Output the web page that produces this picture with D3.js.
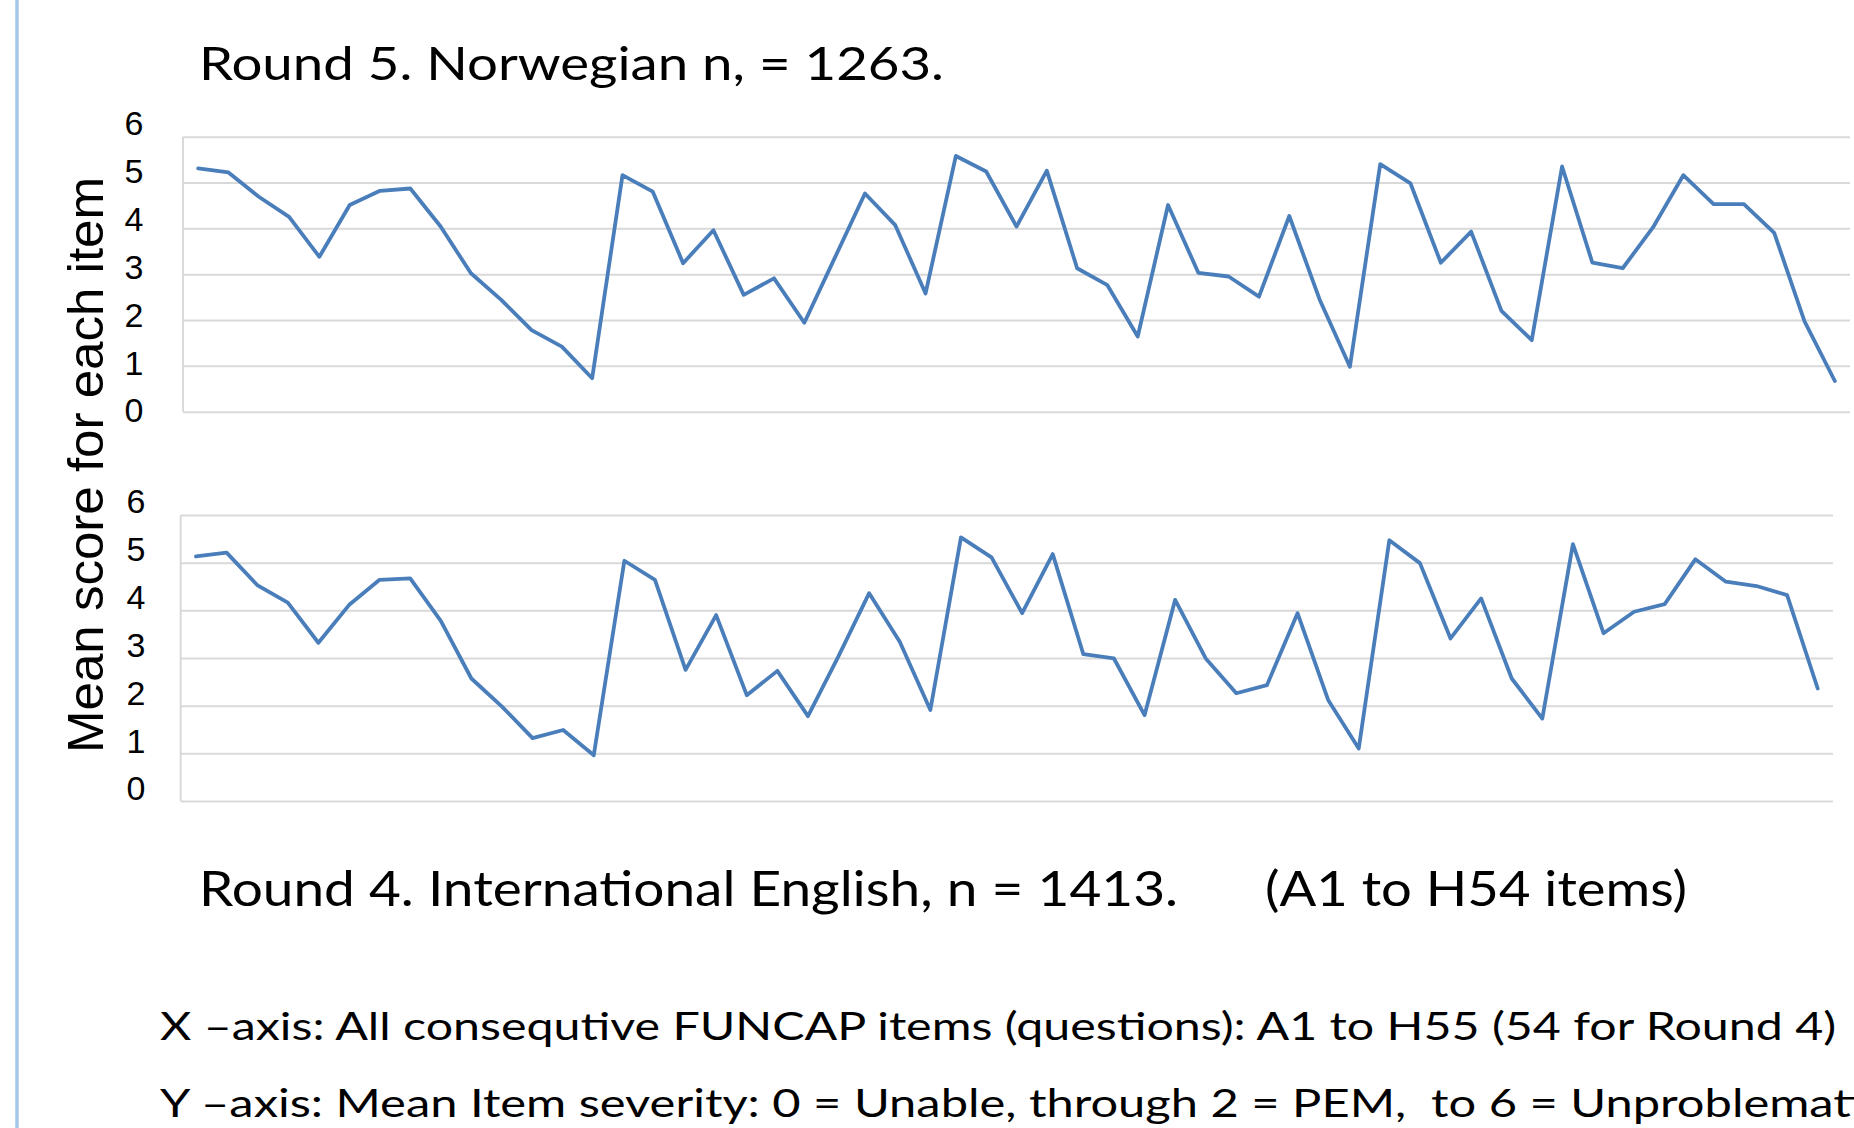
<!DOCTYPE html>
<html>
<head>
<meta charset="utf-8">
<script src="https://cdn.jsdelivr.net/npm/d3@7"></script>
<style>
  body { margin: 0; background: #fff; }
  svg { display: block; }
</style>
</head>
<body>
<div id="chart"></div>
<script>
// mean score per FUNCAP item
const norwegianItems = d3.range(1, 56);
const norwegianMeans = [5.31, 5.22, 4.69, 4.25, 3.38, 4.51, 4.82, 4.87, 4.04, 3.02,
    2.44, 1.78, 1.42, 0.73, 5.16, 4.80, 3.24, 3.96, 2.55, 2.91,
    1.94, 3.35, 4.76, 4.07, 2.58, 5.58, 5.24, 4.04, 5.26, 3.13,
    2.76, 1.64, 4.51, 3.03, 2.95, 2.51, 4.27, 2.45, 0.98, 5.40,
    4.98, 3.25, 3.93, 2.20, 1.56, 5.35, 3.25, 3.13, 4.02, 5.16,
    4.53, 4.53, 3.90, 1.97, 0.67];
const englishItems = d3.range(1, 55);
const englishMeans = [5.13, 5.21, 4.53, 4.16, 3.32, 4.11, 4.64, 4.67, 3.78, 2.57,
    1.98, 1.32, 1.49, 0.96, 5.04, 4.64, 2.75, 3.90, 2.22, 2.73,
    1.78, 3.04, 4.36, 3.34, 1.91, 5.53, 5.11, 3.94, 5.18, 3.08,
    2.99, 1.80, 4.22, 2.99, 2.26, 2.43, 3.94, 2.12, 1.10, 5.47,
    4.99, 3.41, 4.25, 2.57, 1.73, 5.39, 3.52, 3.97, 4.13, 5.07,
    4.60, 4.51, 4.32, 2.36];
const yTicks = [0, 1, 2, 3, 4, 5, 6];

const topTitle = 'Round 5. Norwegian n, = 1263.';
const bottomTitle = 'Round 4. International English, n = 1413.';
const bottomNote = '(A1 to H54 items)';
const yTitle = 'Mean score for each item';
const xNote = 'X \u2013axis: All consequtive FUNCAP items (questions): A1 to H55 (54 for Round 4)';
const yNote = 'Y \u2013axis: Mean Item severity: 0 = Unable, through 2 = PEM,\u00a0 to 6 = Unproblematic';

const W = 1854, H = 1128;
const titleFont = 'Lato, "Open Sans", sans-serif';
const axisFont = '"Liberation Sans", Arial, sans-serif';

const svg = d3.select('#chart').append('svg').attr('width', W).attr('height', H);
svg.append('rect').attr('width', W).attr('height', H).attr('fill', '#fff');

// thin blue rule down the left side
svg.append('line').attr('x1', 17).attr('x2', 17).attr('y1', 0).attr('y2', H)
    .attr('stroke', '#a4c8e8').attr('stroke-width', 3.5);

function panel(items, values, p) {
    const x = d3.scalePoint().domain(items).range([p.left, p.right]).padding(0.5);
    const y = d3.scaleLinear().domain([0, 6]).range([p.bottom, p.top]);

    // gridlines
    svg.append('g').attr('transform', `translate(${p.left}, 0)`)
        .call(d3.axisLeft(y).tickValues(yTicks).tickSize(-(p.right - p.left)).tickFormat(''))
        .call(g => g.select('.domain').remove())
        .selectAll('line').attr('stroke', '#d9d9d9').attr('stroke-width', 2);

    svg.append('line').attr('x1', p.left).attr('x2', p.left).attr('y1', y(6)).attr('y2', y(0))
        .attr('stroke', '#d9d9d9').attr('stroke-width', 2);

    // tick labels sit a little off the gridlines in the original
    const ly = d3.scaleLinear().domain([0, 6]).range([p.label0, p.label6]);
    svg.append('g').attr('transform', `translate(${p.labelX}, 0)`)
        .attr('font-size', 34).attr('font-family', axisFont)
        .call(d3.axisLeft(ly).tickValues(yTicks).tickSize(0).tickPadding(0).tickFormat(d3.format('d')))
        .call(g => g.select('.domain').remove())
        .selectAll('text').attr('x', 0).attr('text-anchor', 'middle')
        .style('font-family', axisFont).style('font-size', '34px').attr('fill', '#000');

    const line = d3.line().x((d, i) => x(items[i])).y(d => y(d));
    svg.append('path').datum(values).attr('d', line)
        .attr('fill', 'none').attr('stroke', '#4a7ebb').attr('stroke-width', 3.8)
        .attr('stroke-linejoin', 'round').attr('stroke-linecap', 'round');
}

panel(norwegianItems, norwegianMeans, {left: 183, right: 1850, top: 136.7, bottom: 411.7, labelX: 134, label0: 411, label6: 124});
panel(englishItems, englishMeans, {left: 180.7, right: 1833, top: 515, bottom: 801, labelX: 136, label0: 789, label6: 502});

// titles
svg.append('text').attr('x', 199).attr('y', 80).text(topTitle)
    .style('font-family', titleFont).style('font-size', '46px').attr('fill', '#000')
    .attr('textLength', 745).attr('lengthAdjust', 'spacingAndGlyphs');
svg.append('text').attr('x', 199).attr('y', 906).text(bottomTitle)
    .style('font-family', titleFont).style('font-size', '48px').attr('fill', '#000')
    .attr('textLength', 979).attr('lengthAdjust', 'spacingAndGlyphs');
svg.append('text').attr('x', 1265).attr('y', 906).text(bottomNote)
    .style('font-family', titleFont).style('font-size', '48px').attr('fill', '#000')
    .attr('textLength', 422).attr('lengthAdjust', 'spacingAndGlyphs');

svg.append('text').attr('transform', 'translate(103, 465) rotate(-90)')
    .attr('text-anchor', 'middle').text(yTitle)
    .style('font-family', axisFont).style('font-size', '50px').attr('fill', '#000')
    .attr('textLength', 576).attr('lengthAdjust', 'spacingAndGlyphs');

// notes under the chart, squeezed the same way; the second runs off the edge as in the original
const notes = svg.append('g');
const xn = notes.append('text').text(xNote).style('font-family', titleFont).style('font-size', '39px').attr('fill', '#000');
const sx = 1677 / xn.node().getComputedTextLength();
xn.attr('transform', `translate(160, 1040) scale(${sx}, 1)`);
notes.append('text').text(yNote).style('font-family', titleFont).style('font-size', '39px').attr('fill', '#000')
    .attr('transform', `translate(160, 1117) scale(${sx * 1.01}, 1)`);
</script>
</body>
</html>
